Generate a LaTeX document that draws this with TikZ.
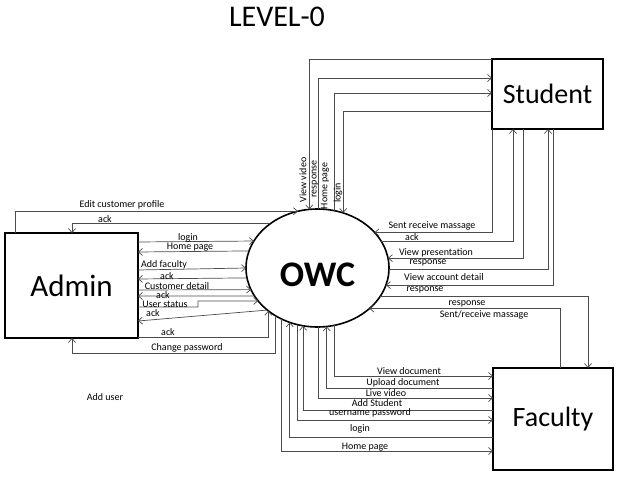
\documentclass[tikz,border=0pt]{standalone}
\usepackage{fontspec}
\setmainfont{Carlito}
\usetikzlibrary{arrows.meta,shapes.geometric}
\begin{document}
\begin{tikzpicture}[x=1pt,y=-1pt,
  box/.style={draw,line width=1.6pt,inner sep=0pt,outer sep=0pt},
  conn/.style={draw=black!70,line width=0.7pt},
  arr/.style={conn,-{Straight Barb[length=4pt,width=7pt]}},
  lbl/.style={font=\fontsize{10}{11}\selectfont,inner sep=0pt},
  vlbl/.style={lbl,rotate=90},
]
\useasboundingbox (0,0) rectangle (638,479);

% title
\node[font=\fontsize{30}{32}\selectfont,inner sep=0pt] (title) at (277,17) {LEVEL-0};

% entities
\node[box,minimum width=111pt,minimum height=70pt,font=\fontsize{28}{30}\selectfont] (student) at (547.5,94) {Student};
\node[box,minimum width=133pt,minimum height=105pt,font=\fontsize{31}{33}\selectfont] (admin) at (71.5,285.5) {Admin};
\node[box,minimum width=120pt,minimum height=102pt,font=\fontsize{28}{30}\selectfont] (faculty) at (553,419) {Faculty};
\node[draw,line width=1.6pt,ellipse,minimum width=143pt,minimum height=118pt,inner sep=0pt,outer sep=0pt] (owc) at (317.5,268) {};
\node[font=\fontsize{36}{40}\selectfont\bfseries,inner sep=0pt] (owct) at (317.5,275) {OWC};

% student top connectors
\draw[arr] (student.north west) -| (owc.98.26);
\draw[arr] (owc.89.6) |- (student.west |- 0,78);
\draw[arr] (owc.74.94) |- (student.west |- 0,93);
\draw[arr] (student.west |- 0,111) -| (owc.65.17);
\node[vlbl] (l1) at (303,180) {View video};
\node[vlbl] (l2) at (315,179) {response};
\node[vlbl] (l3) at (325,186) {Home page};
\node[vlbl] (l4) at (338,193) {login};

% student bottom connectors
\draw[arr] (student.south west) |- (owc.32.44);
\draw[arr] (owc.23) -| (513,0 |- student.south);
\draw[arr] (523,0 |- student.south) |- (owc.8.9);
\draw[arr] (owc.359.2) -| (548,0 |- student.south);
\draw[arr] (553,0 |- student.south) |- (owc.346.9);
\node[lbl] (l5) at (432,226) {Sent receive massage};
\node[lbl] (l6) at (412,237) {ack};
\node[lbl] (l7) at (436,253) {View presentation};
\node[lbl] (l8) at (428,263) {response};
\node[lbl] (l9) at (444,277) {View account detail};

% faculty top connectors
\draw[arr] (owc.336) -| (588,0 |- faculty.north);
\draw[arr] (560,0 |- faculty.north) |- (owc.322.75);
\node[lbl] (l10) at (425,290) {response};
\node[lbl] (l11) at (467,304) {response};
\node[lbl] (l12) at (484,315) {Sent/receive massage};

% faculty left connectors
\draw[arr] (owc.286.04) |- (faculty.west |- 0,376);
\draw[arr] (faculty.west |- 0,388) -| (owc.279.23);
\draw[arr] (owc.271.46) |- (faculty.west |- 0,398);
\draw[arr] (faculty.west |- 0,410) -| (owc.256.88);
\draw[arr] (owc.250.06) |- (faculty.west |- 0,420);
\draw[arr] (faculty.west |- 0,437) -| (owc.243.2);
\draw[arr] (owc.235.27) |- (faculty.west |- 0,451);
\node[lbl] (l13) at (409,371) {View document};
\node[lbl] (l14) at (403,383) {Upload document};
\node[lbl] (l15) at (386,393) {Live video};
\node[lbl] (l16) at (377,403) {Add Student};
\node[lbl] (l17) at (370,413) {username password};
\node[lbl] (l18) at (360,429) {login};
\node[lbl] (l19) at (365,447) {Home page};

% admin connectors
\draw[arr] (15,0 |- admin.north) |- (owc.109.94);
\draw[arr] (owc.137.25) -| (72,0 |- admin.north);
\draw[arr] (admin.east |- 0,242) -- (owc.157.95);
\draw[arr] (owc.166.91) -- (admin.east |- 0,252);
\draw[arr] (admin.east |- 0,270) -- (owc.180);
\draw[arr] (owc.188.9) -- (admin.east |- 0,279);
\draw[arr] (admin.east |- 0,290) -- (owc.198.36);
\draw[arr] (owc.204) -- (admin.east |- 0,296);
\draw[arr] (admin.east |- 0,307) -- (198,307) -- (198,301) -- (owc.209.1);
\draw[arr] (owc.220) -- (admin.east |- 0,321);
\draw[arr] (admin.east |- 0,337) -| (owc.221.8);
\draw[arr] (owc.229.16) |- (72,353) -- (72,0 |- admin.south);
\node[lbl] (a1) at (122,205) {Edit customer profile};
\node[lbl] (a2) at (105,219) {ack};
\node[lbl] (a3) at (188,238) {login};
\node[lbl] (a4) at (190,247) {Home page};
\node[lbl] (a5) at (164,265) {Add faculty};
\node[lbl] (a6) at (167,276) {ack};
\node[lbl] (a7) at (177,286) {Customer detail};
\node[lbl] (a8) at (163,295) {ack};
\node[lbl] (a9) at (165,304) {User status};
\node[lbl] (a10) at (153,313) {ack};
\node[lbl] (a11) at (168,332) {ack};
\node[lbl] (a12) at (187,348) {Change password};

\node[lbl] (adduser) at (105,397) {Add user};
\end{tikzpicture}
\end{document}
